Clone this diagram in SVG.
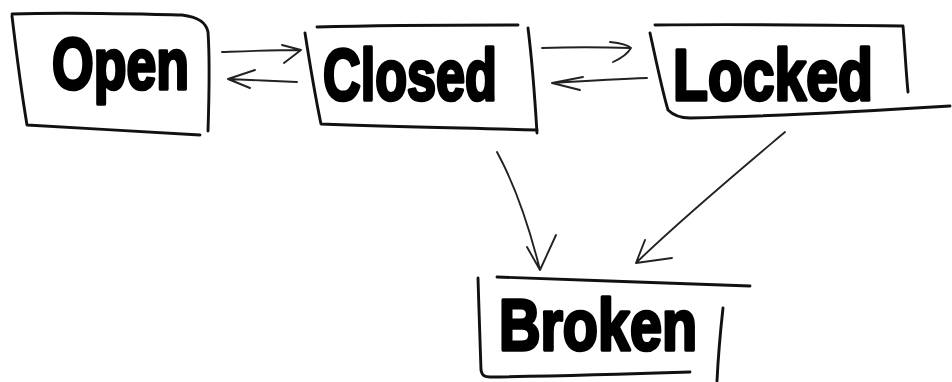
<svg xmlns="http://www.w3.org/2000/svg" width="952" height="382" viewBox="0 0 952 382">
<style>
.ln{fill:none;stroke:#111;stroke-width:2.9;stroke-linecap:round;stroke-linejoin:round}
.th{fill:none;stroke:#222;stroke-width:1.9;stroke-linecap:round;stroke-linejoin:round}
.lb{font-family:"Liberation Sans","DejaVu Sans",sans-serif;font-weight:bold;font-size:72px;fill:#000;stroke:#000;stroke-width:3.5;stroke-linejoin:round;stroke-linecap:round}
</style>
<rect width="952" height="382" fill="#fff"/>
<g id="open">
<path class="ln" d="M12,14 C70,12 140,14 182,15 C198,17 206,22 208,32 C210,60 209,100 208,131"/>
<path class="ln" d="M12,16 C16,50 22,95 27,125 C80,128 150,132 200,135"/>
<text class="lb" x="52" y="89" textLength="137" lengthAdjust="spacingAndGlyphs">Open</text>
</g>
<g id="closed">
<path class="ln" d="M317,27 C390,25 460,25 518,25"/>
<path class="ln" d="M305,33 C310,65 316,100 321,124 C400,127 470,128 537,130"/>
<path class="ln" d="M528,28 C532,60 535,100 537,133"/>
<text class="lb" x="323" y="100" textLength="174" lengthAdjust="spacingAndGlyphs">Closed</text>
</g>
<g id="locked">
<path class="ln" d="M655,25 C740,24 830,25 903,26 C905,50 906,72 908,92"/>
<path class="ln" d="M650,33 C656,60 662,90 668,110 C674,116 680,118 690,118 C780,116 870,111 950,106"/>
<text class="lb" x="673" y="100" textLength="200" lengthAdjust="spacingAndGlyphs">Locked</text>
</g>
<g id="broken">
<path class="ln" d="M497,277 C580,280 670,283 750,286"/>
<path class="ln" d="M478,278 C479,310 480,345 481,370 C482,376 485,377 490,377 C560,376 630,374 690,372"/>
<path class="ln" d="M723,308 C720,335 718,360 717,381"/>
<text class="lb" x="499" y="350" textLength="198" lengthAdjust="spacingAndGlyphs">Broken</text>
</g>
<g id="connectors">
<path class="th" d="M222,52 C250,51 275,50 301,50 M282,45 L301,50 L284,63"/>
<path class="th" d="M297,82 C275,81 250,80 228,79 M255,70 L228,79 L250,88"/>
<path class="th" d="M542,48 C570,47 600,47 631,48 M610,42 C620,43 628,45 631,48 C628,53 622,58 613,62"/>
<path class="th" d="M647,78 C620,79 585,81 552,83 M583,77 L552,83 L580,90"/>
<path class="th" d="M497,152 C515,185 530,230 540,270 M527,247 L540,270 L556,235"/>
<path class="th" d="M785,132 C740,170 680,220 636,263 M645,240 L636,263 L672,258"/>
</g>
</svg>
